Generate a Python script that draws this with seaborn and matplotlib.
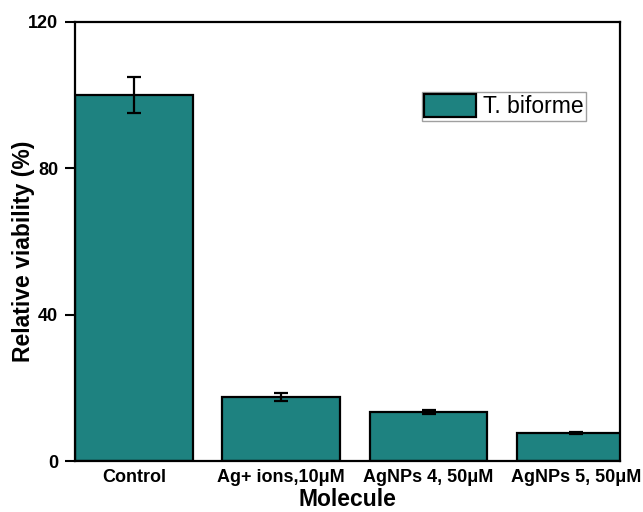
import matplotlib
matplotlib.use("Agg")
import matplotlib.pyplot as plt
import seaborn as sns
import pandas as pd

categories = ["Control", "Ag+ ions,10μM", "AgNPs 4, 50μM", "AgNPs 5, 50μM"]
viability = [100.0, 17.5, 13.4, 7.6]
errors = [5.0, 1.0, 0.6, 0.3]
series_name = "T. biforme"
yticks = [0, 40, 80, 120]

sns.set_style("ticks")
plt.rcParams['font.family'] = ['Liberation Sans', 'DejaVu Sans']
plt.rcParams['text.color'] = 'black'
plt.rcParams['axes.labelcolor'] = 'black'
plt.rcParams['xtick.color'] = 'black'
plt.rcParams['ytick.color'] = 'black'

df = pd.DataFrame({"Molecule": categories, "Viability": viability})

fig = plt.figure(figsize=(6.43, 5.12), dpi=100)
ax = fig.add_axes([75/643, 51/512, 545/643, 439/512])

sns.barplot(data=df, x="Molecule", y="Viability", color="#1e8280", saturation=1,
            width=0.8, edgecolor="black", linewidth=1.6, label=series_name, ax=ax, errorbar=None)
ax.errorbar(x=list(range(len(categories))), y=viability, yerr=errors, fmt="none",
            ecolor="black", elinewidth=1.6, capsize=5, capthick=1.6)

ax.set_xlim(-0.4, 3.3)
ax.set_ylim(0, 120)
ax.set_yticks(yticks)
ax.set_yticklabels([str(t) for t in yticks], fontsize=13, fontweight="bold")
for lab in ax.get_xticklabels():
    lab.set_fontsize(13)
    lab.set_fontweight("bold")
ax.tick_params(axis="x", length=0, pad=6)
ax.tick_params(axis="y", length=7, width=1.5, direction="out", pad=5)
for s in ax.spines.values():
    s.set_visible(True)
    s.set_linewidth(1.6)
    s.set_color("black")
ax.set_xlabel("Molecule", fontsize=16.5, fontweight="bold", labelpad=1.5)
ax.set_ylabel("Relative viability (%)", fontsize=16.5, fontweight="bold", va="center")
ax.yaxis.set_label_coords(-0.095, 0.478)

leg = ax.legend(loc="upper left", bbox_to_anchor=(347/545, 1 - 70/439), fontsize=16.5,
                frameon=True, fancybox=False, edgecolor="#888888", borderpad=0.1,
                handlelength=2.25, handleheight=1.15, handletextpad=0.3, borderaxespad=0)
leg.get_frame().set_linewidth(1.0)

fig.savefig("out.png", dpi=100)
